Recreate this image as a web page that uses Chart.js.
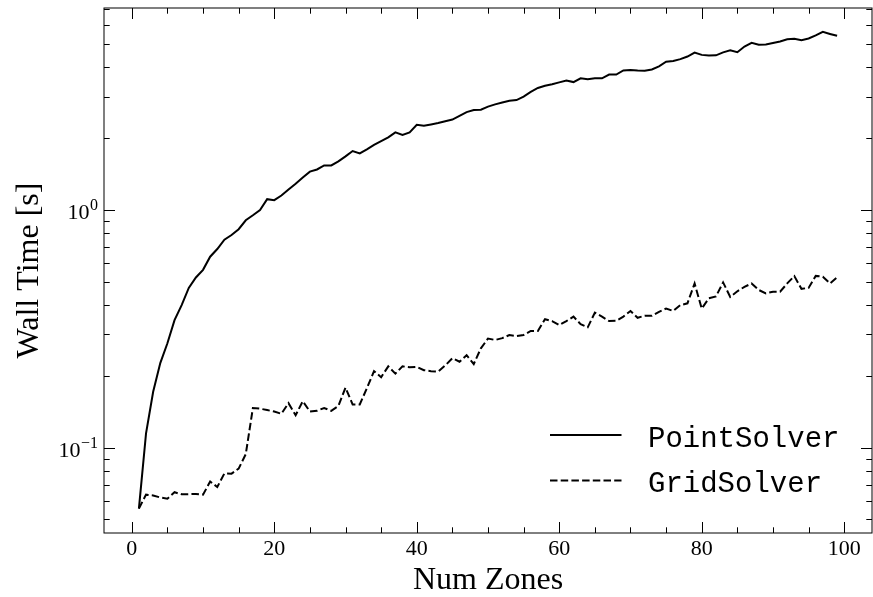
<!DOCTYPE html>
<html>
<head>
<meta charset="utf-8">
<script src="https://cdn.jsdelivr.net/npm/chart.js@4.4.1/dist/chart.umd.min.js"></script>
<style>
  html, body { margin: 0; padding: 0; background: #fff; }
  #wrap { width: 873px; height: 597px; }
</style>
</head>
<body>
<div id="wrap"><canvas id="timingChart" width="873" height="597"></canvas></div>
<script>
// Number of zones (x axis)
const zones = [
    1, 2, 3, 4, 5, 6, 7, 8, 9, 10, 11, 12, 13, 14, 15, 16, 17, 18, 19, 20,
    21, 22, 23, 24, 25, 26, 27, 28, 29, 30, 31, 32, 33, 34, 35, 36, 37, 38, 39, 40,
    41, 42, 43, 44, 45, 46, 47, 48, 49, 50, 51, 52, 53, 54, 55, 56, 57, 58, 59, 60,
    61, 62, 63, 64, 65, 66, 67, 68, 69, 70, 71, 72, 73, 74, 75, 76, 77, 78, 79, 80,
    81, 82, 83, 84, 85, 86, 87, 88, 89, 90, 91, 92, 93, 94, 95, 96, 97, 98, 99
];

// Wall time [s] per solver
const pointSolver = [
    0.0555, 0.115, 0.172, 0.227, 0.275, 0.344, 0.398, 0.47, 0.52, 0.56,
    0.636, 0.685, 0.75, 0.785, 0.83, 0.905, 0.95, 1.0, 1.11, 1.10,
    1.15, 1.22, 1.29, 1.37, 1.45, 1.48, 1.54, 1.54, 1.60, 1.68,
    1.77, 1.73, 1.80, 1.88, 1.95, 2.02, 2.12, 2.07, 2.12, 2.28,
    2.26, 2.29, 2.32, 2.36, 2.40, 2.49, 2.58, 2.63, 2.64, 2.72,
    2.78, 2.83, 2.88, 2.90, 3.00, 3.14, 3.26, 3.33, 3.38, 3.44,
    3.50, 3.45, 3.58, 3.55, 3.58, 3.58, 3.71, 3.71, 3.86, 3.88,
    3.86, 3.85, 3.90, 4.02, 4.20, 4.23, 4.31, 4.42, 4.59, 4.49,
    4.46, 4.47, 4.60, 4.69, 4.61, 4.87, 5.05, 4.95, 4.97, 5.04,
    5.11, 5.22, 5.25, 5.18, 5.26, 5.42, 5.61, 5.50, 5.40
];
const gridSolver = [
    0.0555, 0.0635, 0.063, 0.0618, 0.0611, 0.065, 0.0637, 0.0638, 0.0639, 0.0635,
    0.0721, 0.0684, 0.078, 0.0778, 0.0817, 0.094, 0.147, 0.146, 0.144, 0.142,
    0.139, 0.154, 0.137, 0.157, 0.142, 0.143, 0.147, 0.143, 0.150, 0.179,
    0.152, 0.152, 0.178, 0.210, 0.198, 0.220, 0.205, 0.220, 0.218, 0.219,
    0.212, 0.210, 0.209, 0.222, 0.238, 0.230, 0.245, 0.225, 0.262, 0.288,
    0.284, 0.289, 0.298, 0.295, 0.298, 0.310, 0.310, 0.347, 0.341, 0.328,
    0.341, 0.356, 0.331, 0.321, 0.370, 0.356, 0.341, 0.342, 0.356, 0.376,
    0.352, 0.359, 0.359, 0.373, 0.385, 0.376, 0.398, 0.405, 0.491, 0.385,
    0.425, 0.433, 0.496, 0.431, 0.455, 0.475, 0.491, 0.461, 0.446, 0.453,
    0.453, 0.491, 0.527, 0.466, 0.470, 0.528, 0.524, 0.491, 0.521
];

const seriesLabels = ['PointSolver', 'GridSolver'];
const xTicks = [0, 20, 40, 60, 80, 100];
const yTicks = [0.1, 1];
const yTickExponents = ['\u22121', '0'];
const xTitle = 'Num Zones';
const yTitle = 'Wall Time [s]';

const SERIF = '"Liberation Serif", "DejaVu Serif", serif';
const MONO = '"Liberation Mono", "DejaVu Sans Mono", monospace';

function toPoints(values) {
    return zones.map((z, i) => ({ x: z, y: values[i] }));
}

// Frame, inward ticks, tick labels, titles and legend (matplotlib look)
const sciencePlot = {
    id: 'sciencePlot',
    afterDraw(chart) {
        const ctx = chart.ctx;
        const a = chart.chartArea;
        const xs = chart.scales.x;
        const ys = chart.scales.y;
        const major = 11, minor = 5.7;

        ctx.save();
        ctx.strokeStyle = '#000';
        ctx.lineWidth = 1;
        ctx.strokeRect(a.left, a.top, a.right - a.left, a.bottom - a.top);

        // x ticks
        ctx.beginPath();
        for (let v = -5; v <= 105; v += 5) {
            if (v < xs.min || v > xs.max) continue;
            const px = Math.round(xs.getPixelForValue(v)) + 0.5;
            const len = xTicks.includes(v) ? major : minor;
            ctx.moveTo(px, a.bottom); ctx.lineTo(px, a.bottom - len);
            ctx.moveTo(px, a.top); ctx.lineTo(px, a.top + len);
        }
        // y ticks (log)
        for (let dec = 0.01; dec <= 10; dec *= 10) {
            for (let m = 1; m <= 9; m++) {
                const v = +(dec * m).toPrecision(3);
                if (v < ys.min || v > ys.max) continue;
                const py = Math.round(ys.getPixelForValue(v)) + 0.5;
                const len = m === 1 ? major : minor;
                ctx.moveTo(a.left, py); ctx.lineTo(a.left + len, py);
                ctx.moveTo(a.right, py); ctx.lineTo(a.right - len, py);
            }
        }
        ctx.stroke();

        ctx.fillStyle = '#000';
        // x tick labels
        ctx.font = '22px ' + SERIF;
        ctx.textAlign = 'center';
        ctx.textBaseline = 'alphabetic';
        xTicks.forEach(v => {
            ctx.fillText(String(v), xs.getPixelForValue(v), a.bottom + 22);
        });

        // y tick labels 10^n
        ctx.textAlign = 'right';
        yTicks.forEach((v, i) => {
            const py = ys.getPixelForValue(v);
            ctx.font = '16px ' + SERIF;
            const sup = yTickExponents[i];
            const supW = ctx.measureText(sup).width;
            ctx.fillText(sup, a.left - 6, py + 0.5);
            ctx.font = '22px ' + SERIF;
            ctx.fillText('10', a.left - 6 - supW - 0.5, py + 9);
        });

        // axis titles
        ctx.font = '32px ' + SERIF;
        ctx.textAlign = 'center';
        ctx.fillText(xTitle, (a.left + a.right) / 2, 589);
        ctx.save();
        ctx.translate(38, (a.top + a.bottom) / 2);
        ctx.rotate(-Math.PI / 2);
        ctx.fillText(yTitle, 0, 0);
        ctx.restore();

        // legend
        ctx.font = '29px ' + MONO;
        ctx.textAlign = 'left';
        chart.data.datasets.forEach((ds, i) => {
            const ly = 435 + i * 45.5;
            ctx.save();
            ctx.lineWidth = ds.borderWidth;
            ctx.strokeStyle = ds.borderColor;
            ctx.setLineDash(ds.borderDash || []);
            ctx.beginPath();
            ctx.moveTo(550, ly);
            ctx.lineTo(621.5, ly);
            ctx.stroke();
            ctx.restore();
            ctx.fillText(ds.label, 648, ly + 11.5);
        });
        ctx.restore();
    }
};

const ctx = document.getElementById('timingChart').getContext('2d');
new Chart(ctx, {
    type: 'line',
    data: {
        datasets: [{
            label: seriesLabels[0],
            data: toPoints(pointSolver),
            borderColor: '#000',
            borderWidth: 2,
            pointRadius: 0,
            tension: 0,
            fill: false
        }, {
            label: seriesLabels[1],
            data: toPoints(gridSolver),
            borderColor: '#000',
            borderWidth: 2,
            borderDash: [7.5, 3.2],
            pointRadius: 0,
            tension: 0,
            fill: false
        }]
    },
    options: {
        responsive: false,
        animation: false,
        devicePixelRatio: 1,
        layout: { padding: { top: 8, right: 1, bottom: 0, left: 0 } },
        plugins: {
            legend: { display: false },
            tooltip: { enabled: false }
        },
        scales: {
            x: {
                type: 'linear',
                min: -3.9,
                max: 103.9,
                grid: { display: false },
                border: { display: false },
                ticks: { display: false },
                afterFit: scale => { scale.height = 64; }
            },
            y: {
                type: 'logarithmic',
                min: 0.0438,
                max: 7.07,
                grid: { display: false },
                border: { display: false },
                ticks: { display: false },
                afterFit: scale => { scale.width = 104; }
            }
        }
    },
    plugins: [sciencePlot]
});
</script>
</body>
</html>
